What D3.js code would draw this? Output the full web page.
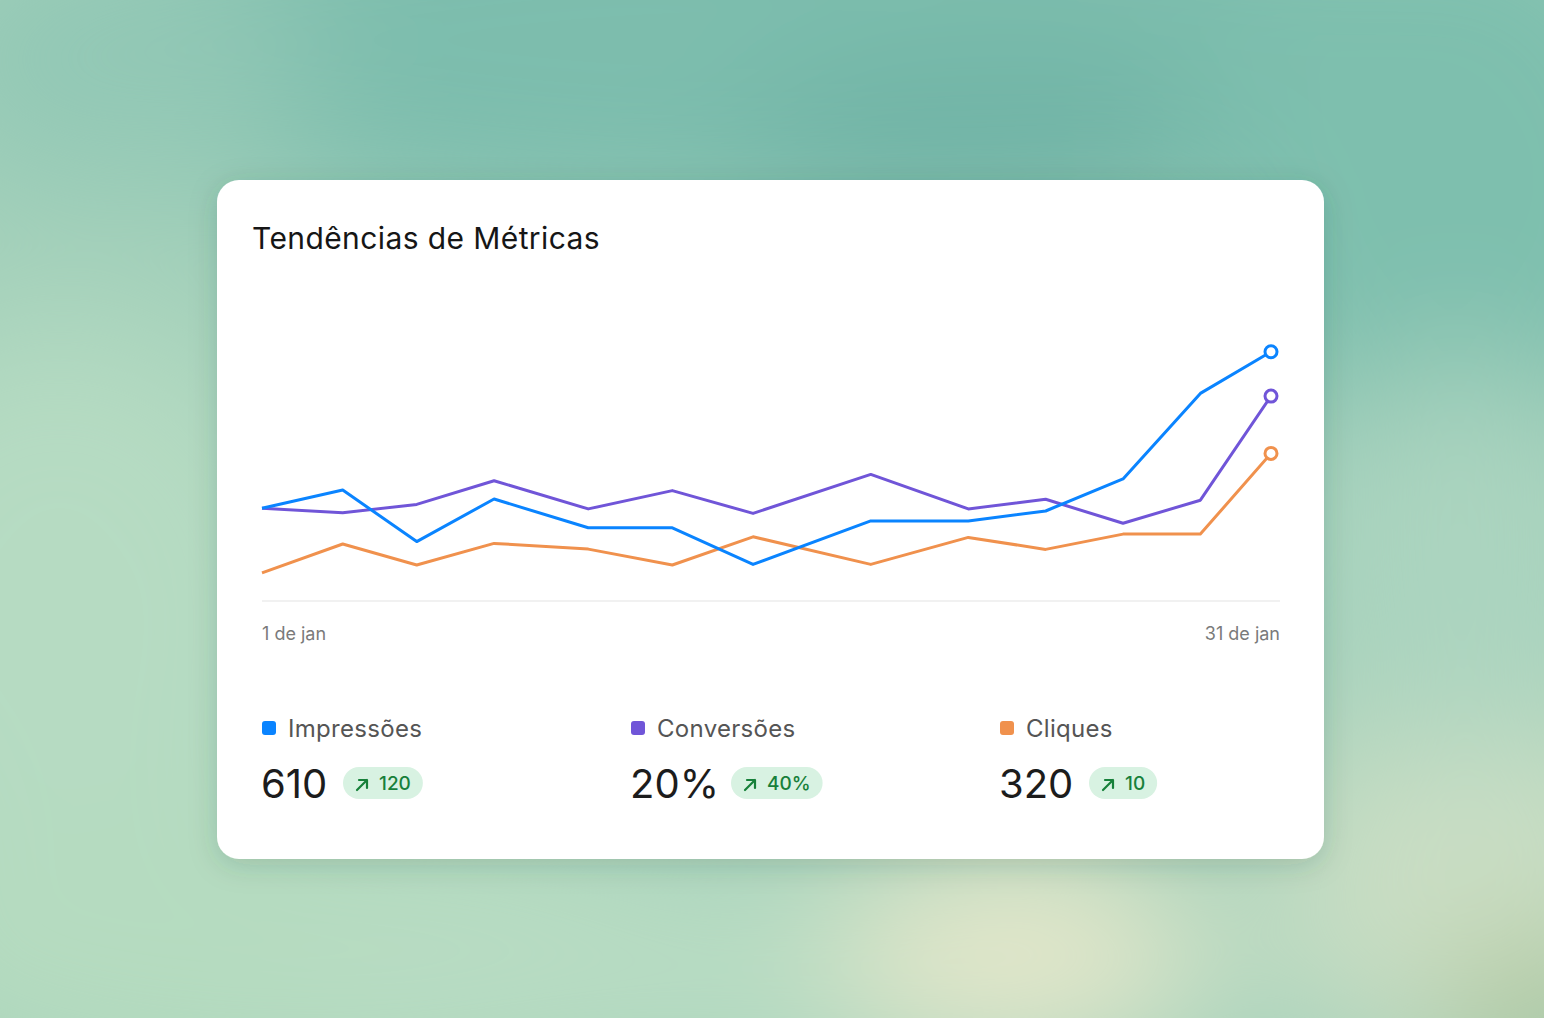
<!DOCTYPE html>
<html>
<head>
<meta charset="utf-8">
<script src="https://cdn.jsdelivr.net/npm/d3@7"></script>
<style>
  html, body { margin: 0; padding: 0; overflow: hidden; }
  body { width: 1544px; height: 1018px; }
  svg { display: block; font-family: Inter, "Noto Sans", sans-serif; }
</style>
</head>
<body>
<div id="chart-area"></div>
<script>
// data
var days = [1, 3.4, 5.6, 7.9, 10.7, 13.2, 15.6, 19.1, 22.0, 24.3, 26.6, 28.9, 31];
var impressoes = [30.9, 37.0, 19.8, 34.0, 24.4, 24.4, 12.2, 26.7, 26.7, 30.0, 40.7, 69.2, 83.1];
var conversoes = [30.9, 29.4, 32.2, 40.1, 30.7, 36.8, 29.2, 42.2, 30.7, 33.9, 25.9, 33.6, 68.3];
var cliques = [9.4, 19.0, 12.0, 19.2, 17.3, 12.0, 21.4, 12.2, 21.2, 17.2, 22.3, 22.3, 49.2];
var xTickLabels = ["1 de jan", "31 de jan"];
var seriesNames = ["Impressões", "Conversões", "Cliques"];
var seriesColors = ["#0a84ff", "#7055d8", "#f0914d"];
var totals = ["610", "20%", "320"];
var deltas = ["120", "40%", "10"];

var W = 1544, H = 1018;
var card = {x: 217, y: 180, w: 1107, h: 679};

var svg = d3.select("#chart-area")
  .append("svg")
  .attr("width", W)
  .attr("height", H);

var defs = svg.append("defs");
var blur = defs.append("filter").attr("id", "blur")
  .attr("x", "-50%").attr("y", "-50%").attr("width", "200%").attr("height", "200%");
blur.append("feGaussianBlur").attr("stdDeviation", 70);

var shadow = defs.append("filter").attr("id", "shadow")
  .attr("x", "-10%").attr("y", "-10%").attr("width", "120%").attr("height", "130%");
shadow.append("feDropShadow").attr("dx", 0).attr("dy", 6).attr("stdDeviation", 14)
  .attr("flood-color", "#1f4a3c").attr("flood-opacity", 0.18);

// background
svg.append("rect").attr("width", W).attr("height", H).attr("fill", "#a3d0ba");
var blobs = [
  {cx: 800, cy: 40, rx: 800, ry: 200, c: "#7dbdad"},
  {cx: 1000, cy: 150, rx: 260, ry: 90, c: "#6eb2a5"},
  {cx: 120, cy: 60, rx: 200, ry: 120, c: "#92c8b5"},
  {cx: 1450, cy: 180, rx: 260, ry: 300, c: "#7ebfae"},
  {cx: 60, cy: 620, rx: 260, ry: 300, c: "#b6dbc2"},
  {cx: 300, cy: 950, rx: 450, ry: 160, c: "#b5dbc0"},
  {cx: 780, cy: 970, rx: 500, ry: 110, c: "#b8dcc3"},
  {cx: 1020, cy: 950, rx: 180, ry: 110, c: "#e4e7ca"},
  {cx: 1470, cy: 880, rx: 200, ry: 200, c: "#cadec4"},
  {cx: 1535, cy: 1010, rx: 90, ry: 70, c: "#aec296"},
  {cx: 1460, cy: 560, rx: 160, ry: 200, c: "#abd4bf"}
];
svg.append("g").attr("filter", "url(#blur)")
  .selectAll("ellipse").data(blobs).enter().append("ellipse")
  .attr("cx", function(d) { return d.cx; })
  .attr("cy", function(d) { return d.cy; })
  .attr("rx", function(d) { return d.rx; })
  .attr("ry", function(d) { return d.ry; })
  .attr("fill", function(d) { return d.c; });

// card
svg.append("rect")
  .attr("x", card.x).attr("y", card.y)
  .attr("width", card.w).attr("height", card.h)
  .attr("rx", 22).attr("fill", "#ffffff")
  .attr("filter", "url(#shadow)");

svg.append("text")
  .attr("x", 252).attr("y", 249)
  .attr("font-size", 30).attr("font-weight", 400)
  .attr("letter-spacing", 0.4)
  .attr("fill", "#161616")
  .text("Tendências de Métricas");

// scales
var x = d3.scaleLinear().domain([1, 31]).range([262, 1271]);
var y = d3.scaleLinear().domain([0, 100]).range([601, 301]);

// baseline
svg.append("line")
  .attr("x1", 262).attr("x2", 1280)
  .attr("y1", y(0)).attr("y2", y(0))
  .attr("stroke", "#ececec").attr("stroke-width", 1.5);

svg.append("text").attr("x", 262).attr("y", 640)
  .attr("font-size", 18).attr("fill", "#7a7a7a")
  .text(xTickLabels[0]);
svg.append("text").attr("x", 1280).attr("y", 640)
  .attr("text-anchor", "end")
  .attr("font-size", 18).attr("fill", "#7a7a7a")
  .text(xTickLabels[1]);

var series = [impressoes, conversoes, cliques];
var line = d3.line()
  .x(function(d, i) { return x(days[i]); })
  .y(function(d) { return y(d); });

// draw back to front: orange, purple, blue
[2, 1, 0].forEach(function(k) {
  svg.append("path")
    .datum(series[k])
    .attr("d", line)
    .attr("fill", "none")
    .attr("stroke", seriesColors[k])
    .attr("stroke-width", 3)
    .attr("stroke-linejoin", "round");
});
[2, 1, 0].forEach(function(k) {
  var vals = series[k];
  svg.append("circle")
    .attr("cx", x(days[days.length - 1]))
    .attr("cy", y(vals[vals.length - 1]))
    .attr("r", 6)
    .attr("fill", "#ffffff")
    .attr("stroke", seriesColors[k])
    .attr("stroke-width", 3);
});

// legend and totals
var colX = [262, 631, 1000];
var badgeX = [81, 100, 89];
seriesNames.forEach(function(name, i) {
  var g = svg.append("g").attr("transform", "translate(" + colX[i] + ",0)");
  g.append("rect")
    .attr("x", 0).attr("y", 721)
    .attr("width", 14).attr("height", 14)
    .attr("rx", 3).attr("fill", seriesColors[i]);
  g.append("text")
    .attr("x", 26).attr("y", 737)
    .attr("font-size", 24).attr("fill", "#555555")
    .attr("letter-spacing", 0.3)
    .text(name);
  g.append("text")
    .attr("x", -1).attr("y", 798)
    .attr("font-size", 40).attr("font-weight", 400)
    .attr("fill", "#1c1c1c")
    .text(totals[i]);
  var badge = g.append("g").attr("transform", "translate(" + badgeX[i] + ",767)");
  var bt = badge.append("text")
    .attr("x", 36).attr("y", 23)
    .attr("font-size", 19).attr("font-weight", 500)
    .attr("fill", "#17803a")
    .text(deltas[i]);
  var bw = 36 + bt.node().getComputedTextLength() + 12;
  badge.insert("rect", "text")
    .attr("width", bw).attr("height", 32)
    .attr("rx", 16).attr("fill", "#d8f2e2");
  // arrow ↗
  badge.append("path")
    .attr("d", "M14,23 L24,13 M16,13 L24,13 L24,21")
    .attr("fill", "none")
    .attr("stroke", "#17803a")
    .attr("stroke-width", 2.2)
    .attr("stroke-linecap", "round")
    .attr("stroke-linejoin", "round");
});
</script>
</body>
</html>
